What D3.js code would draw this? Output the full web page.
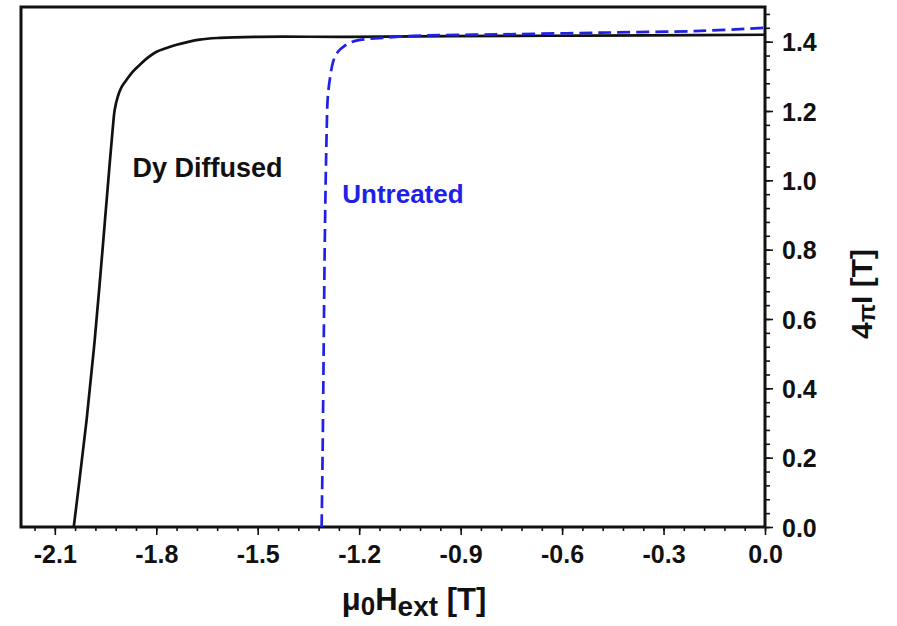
<!DOCTYPE html>
<html>
<head>
<meta charset="utf-8">
<script src="https://cdn.jsdelivr.net/npm/d3@7"></script>
<style>
  html, body { margin: 0; padding: 0; background: #fff; }
  text { font-family: Arial, "Liberation Sans", sans-serif; font-weight: bold; }
</style>
</head>
<body>
<div id="chart"></div>
<script>
// demagnetization curves
const dyField = [-2.044, -2.027, -2.006, -1.982, -1.959, -1.938, -1.929, -1.923, -1.914, -1.902, -1.888, -1.870, -1.849, -1.825, -1.799, -1.769, -1.740, -1.672, -1.612, -1.494, -1.228, -0.932, -0.636, -0.340, 0.0];
const dyMag   = [0.0, 0.136, 0.309, 0.540, 0.799, 1.045, 1.146, 1.203, 1.241, 1.270, 1.290, 1.313, 1.333, 1.354, 1.371, 1.382, 1.391, 1.406, 1.411, 1.414, 1.414, 1.416, 1.417, 1.418, 1.420];

const untrField = [-1.311, -1.308, -1.305, -1.302, -1.299, -1.296, -1.293, -1.287, -1.278, -1.269, -1.257, -1.243, -1.228, -1.198, -1.130, -1.041, -0.784, -0.488, -0.192, 0.0];
const untrMag   = [0.0, 0.222, 0.511, 0.799, 1.001, 1.146, 1.238, 1.290, 1.339, 1.362, 1.377, 1.388, 1.397, 1.405, 1.411, 1.417, 1.421, 1.426, 1.431, 1.440];

const xTicks = [-2.1, -1.8, -1.5, -1.2, -0.9, -0.6, -0.3, 0.0];
const yTicks = [0.0, 0.2, 0.4, 0.6, 0.8, 1.0, 1.2, 1.4];

const W = 897, H = 626;
const margin = {top: 7, right: 132, bottom: 99, left: 21};
const innerW = W - margin.left - margin.right;
const innerH = H - margin.top - margin.bottom;

const svg = d3.select("#chart").append("svg")
    .attr("width", W)
    .attr("height", H);

const g = svg.append("g")
    .attr("transform", "translate(" + margin.left + "," + margin.top + ")");

const x = d3.scaleLinear().domain([-2.2, 0]).range([0, innerW]);
const y = d3.scaleLinear().domain([0, 1.5]).range([innerH, 0]);

// minor ticks
const xMinor = d3.range(-36, 1).map(i => +(i * 0.06).toFixed(2)).filter(v => v >= -2.2);
const yMinor = d3.range(0, 38).map(i => +(i * 0.04).toFixed(2)).filter(v => v <= 1.5);

// plain hyphen for negatives like the original
const fmt = d => d.toFixed(1);

const xAxisMinor = d3.axisBottom(x).tickValues(xMinor).tickSize(4).tickFormat("");
const xAxis = d3.axisBottom(x).tickValues(xTicks).tickSize(8).tickPadding(10).tickFormat(fmt);
const yAxisMinor = d3.axisRight(y).tickValues(yMinor).tickSize(5).tickFormat("");
const yAxis = d3.axisRight(y).tickValues(yTicks).tickSize(8).tickPadding(9).tickFormat(fmt);

function styleAxis(sel){
    sel.select(".domain").remove();
    sel.selectAll("line").attr("stroke", "#111").attr("stroke-width", 1.6);
    sel.selectAll("text").attr("fill", "#111").style("font-size", "25px");
}

g.append("g").attr("transform", "translate(0," + innerH + ")").call(xAxisMinor).call(styleAxis);
g.append("g").attr("transform", "translate(0," + innerH + ")").call(xAxis).call(styleAxis);
g.append("g").attr("transform", "translate(" + innerW + ",0)").call(yAxisMinor).call(styleAxis);
g.append("g").attr("transform", "translate(" + innerW + ",0)").call(yAxis).call(styleAxis)
    .selectAll("text").attr("dy", "0.36em");

// frame
g.append("rect")
    .attr("x", 0).attr("y", 0)
    .attr("width", innerW).attr("height", innerH)
    .attr("fill", "none")
    .attr("stroke", "#111")
    .attr("stroke-width", 3);

const line = d3.line()
    .x(d => x(d[0]))
    .y(d => y(d[1]))
    .curve(d3.curveCatmullRom.alpha(0.5));

g.append("path")
    .datum(dyField.map((v, i) => [v, dyMag[i]]))
    .attr("d", line)
    .attr("fill", "none")
    .attr("stroke", "#111")
    .attr("stroke-width", 2.7);

g.append("path")
    .datum(untrField.map((v, i) => [v, untrMag[i]]))
    .attr("d", line)
    .attr("fill", "none")
    .attr("stroke", "#2020e8")
    .attr("stroke-width", 2.7)
    .attr("stroke-dasharray", "13,6");

// curve labels
g.append("text")
    .attr("x", x(-1.87)).attr("y", y(1.01))
    .attr("fill", "#111")
    .style("font-size", "27px")
    .text("Dy Diffused");

g.append("text")
    .attr("x", x(-1.25)).attr("y", y(0.935))
    .attr("fill", "#2020e8")
    .style("font-size", "26px")
    .text("Untreated");

// axis titles
const xt = svg.append("text")
    .attr("x", 414)
    .attr("y", 610)
    .attr("text-anchor", "middle")
    .attr("fill", "#111")
    .style("font-size", "31px");
xt.append("tspan").text("\u03bc");
xt.append("tspan").attr("dy", 5).style("font-size", "26px").text("0");
xt.append("tspan").attr("dy", -5).text("H");
xt.append("tspan").attr("dy", 6).style("font-size", "28px").text("ext");
xt.append("tspan").attr("dy", -6).text(" [T]");

const yt = svg.append("text")
    .attr("transform", "translate(872,294) rotate(-90)")
    .attr("text-anchor", "middle")
    .attr("fill", "#111")
    .style("font-size", "30px");
yt.append("tspan").text("4");
yt.append("tspan").attr("dy", 3).style("font-size", "24px").text("\u03c0");
yt.append("tspan").attr("dy", -3).text("I [T]");
</script>
</body>
</html>
